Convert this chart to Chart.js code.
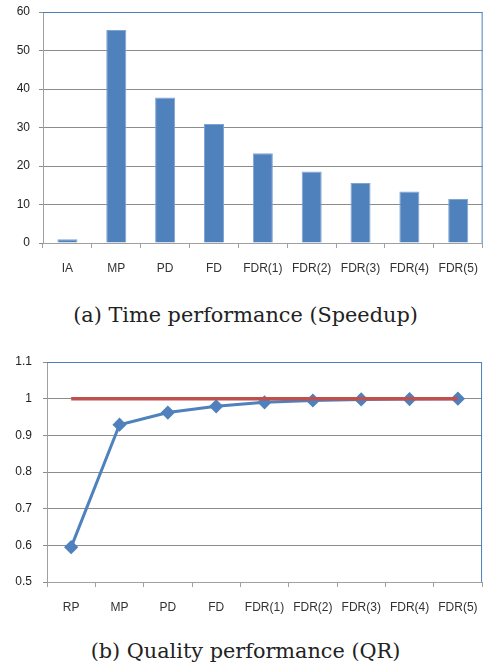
<!DOCTYPE html>
<html>
<head>
<meta charset="utf-8">
<script src="https://cdn.jsdelivr.net/npm/chart.js@4"></script>
<style>
  html, body { margin: 0; padding: 0; background: #fff; }
  body { width: 491px; height: 668px; position: relative; overflow: hidden; }
  .box { position: absolute; left: 0; width: 491px; }
  .caption {
    position: absolute; left: 0; width: 491px; text-align: center;
    font-family: 'DejaVu Serif', serif; font-size: 20.8px; color: #222;
  }
</style>
</head>
<body>
<div class="box" style="top:0;height:280px"><canvas id="speedChart"></canvas></div>
<div class="caption" style="top:303px">(a) Time performance (Speedup)</div>
<div class="box" style="top:350px;height:269px"><canvas id="qualityChart"></canvas></div>
<div class="caption" style="top:639px">(b) Quality performance (QR)</div>
<script>
const speedLabels   = ['IA', 'MP', 'PD', 'FD', 'FDR(1)', 'FDR(2)', 'FDR(3)', 'FDR(4)', 'FDR(5)'];
const speedValues   = [1, 55.3, 37.8, 30.9, 23.3, 18.6, 15.6, 13.4, 11.4];
const qualityLabels = ['RP', 'MP', 'PD', 'FD', 'FDR(1)', 'FDR(2)', 'FDR(3)', 'FDR(4)', 'FDR(5)'];
const qualityValues = [0.595, 0.929, 0.962, 0.979, 0.99, 0.995, 0.998, 0.999, 1.0];
const baselineQR    = [1, 1, 1, 1, 1, 1, 1, 1, 1];

const tickFont = { family: "'Liberation Sans', sans-serif", size: 12 };
const blue = '#4F81BD';
const red  = '#C0504D';

// blue frame on top/right of the plot area, like the Excel original
const framePlugin = {
  id: 'frame',
  afterDraw(chart) {
    const { ctx, chartArea: a } = chart;
    ctx.save();
    ctx.strokeStyle = '#4A7EBB';
    ctx.lineWidth = 1;
    ctx.beginPath();
    ctx.moveTo(a.left, a.top + 0.5);
    ctx.lineTo(a.right - 0.5, a.top + 0.5);
    ctx.lineTo(a.right - 0.5, a.bottom);
    ctx.stroke();
    ctx.restore();
  },
};

function axes(yMin, yMax, step, yWidth, yPad, fmt) {
  return {
    x: {
      offset: true,
      grid: { offset: true, drawOnChartArea: false, tickLength: 5, color: '#A0A0A0' },
      border: { color: '#A0A0A0' },
      ticks: { color: '#333', font: tickFont, padding: 13, maxRotation: 0, autoSkip: false },
      afterFit: s => { s.height = 37; },
    },
    y: {
      min: yMin, max: yMax,
      grid: { color: '#8C8C8C', tickLength: 4 },
      border: { color: '#A0A0A0' },
      ticks: { stepSize: step, color: '#222', font: tickFont, padding: yPad, callback: fmt },
      afterFit: s => { s.width = yWidth; s.paddingTop = 0; s.paddingBottom = 0; },
    },
  };
}

Chart.defaults.devicePixelRatio = 1;

new Chart(document.getElementById('speedChart'), {
  type: 'bar',
  data: {
    labels: speedLabels,
    datasets: [{
      data: speedValues, backgroundColor: blue, borderColor: '#7FA3D3', borderWidth: 1,
      categoryPercentage: 1, barPercentage: 0.41,
    }],
  },
  options: {
    responsive: true, maintainAspectRatio: false, animation: false,
    layout: { padding: { top: 12, right: 2, left: 0, bottom: 0 } },
    plugins: { legend: { display: false }, tooltip: { enabled: false } },
    scales: axes(0, 60, 10, 43, 9, v => v),
  },
  plugins: [framePlugin],
});

new Chart(document.getElementById('qualityChart'), {
  type: 'line',
  data: {
    labels: qualityLabels,
    datasets: [
      { data: baselineQR, borderColor: red, borderWidth: 3.5, pointRadius: 0, fill: false },
      {
        data: qualityValues, borderColor: blue, borderWidth: 3, fill: false,
        pointStyle: 'rectRot', pointRadius: 5, pointBackgroundColor: blue, pointBorderColor: blue,
      },
    ],
  },
  options: {
    responsive: true, maintainAspectRatio: false, animation: false,
    layout: { padding: { top: 12, right: 2, left: 0, bottom: 0 } },
    plugins: { legend: { display: false }, tooltip: { enabled: false } },
    scales: axes(0.5, 1.1, 0.1, 47, 11, v => Math.round(v * 10) / 10),
  },
  plugins: [framePlugin],
});
</script>
</body>
</html>
